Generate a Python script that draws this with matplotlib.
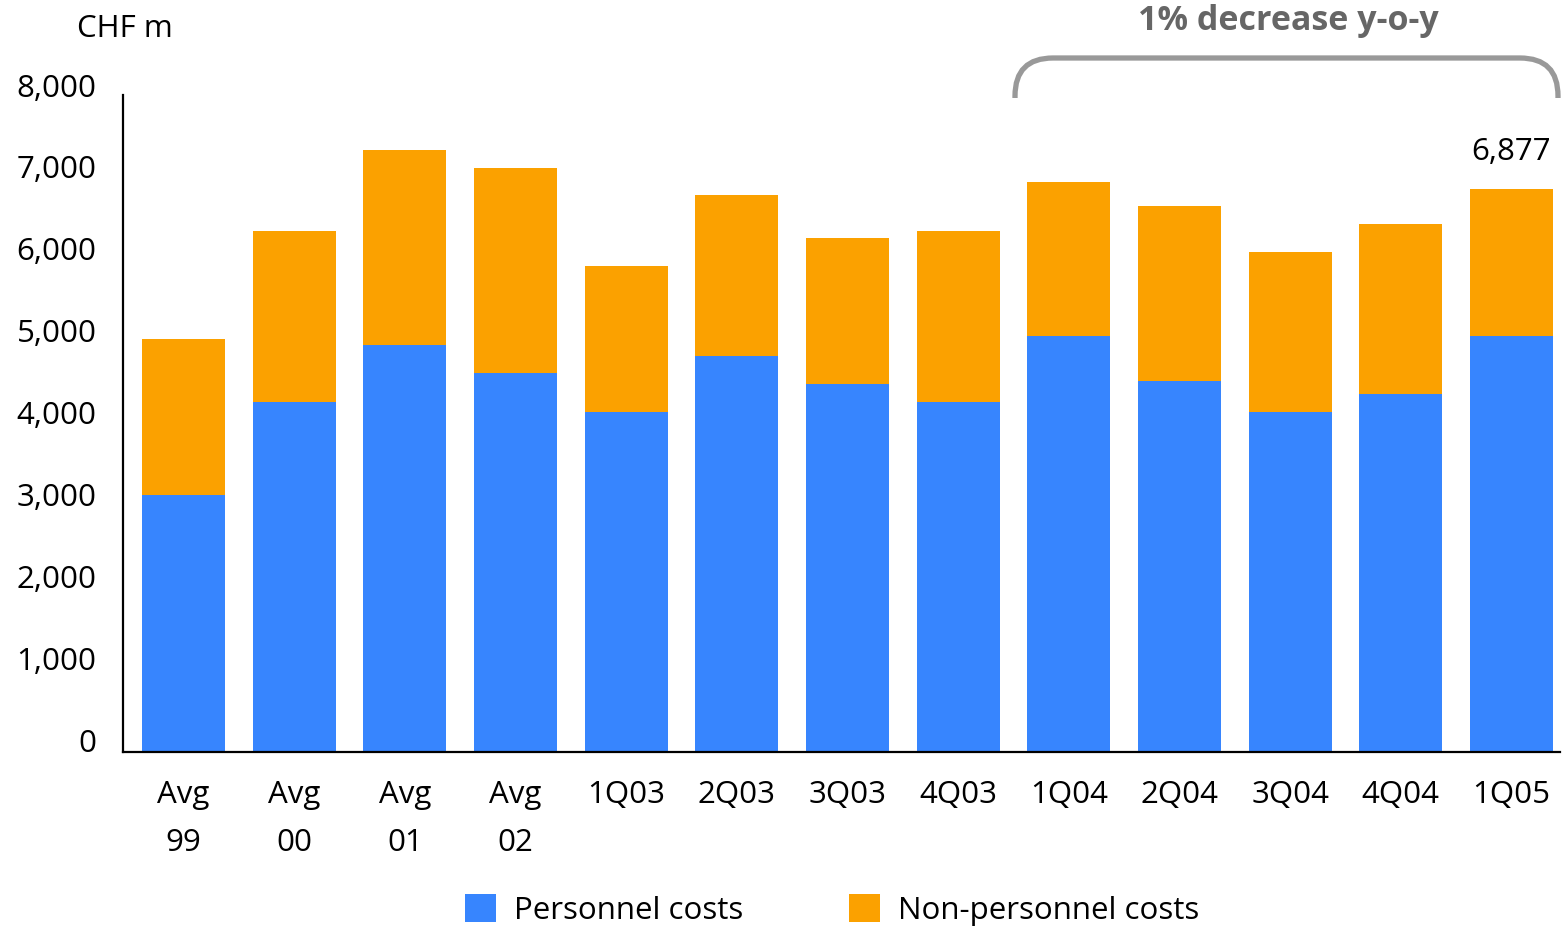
import matplotlib
matplotlib.use("Agg")
import matplotlib.pyplot as plt
from matplotlib.path import Path
from matplotlib.patches import PathPatch
from matplotlib.transforms import ScaledTranslation

plt.rcParams["font.family"] = ["Open Sans", "DejaVu Sans"]

# CHF m
categories = ["Avg\n99", "Avg\n00", "Avg\n01", "Avg\n02", "1Q03", "2Q03", "3Q03",
              "4Q03", "1Q04", "2Q04", "3Q04", "4Q04", "1Q05"]
personnel = [3139, 4275, 4971, 4629, 4153, 4837, 4495, 4275, 5081, 4532, 4153, 4373, 5081]
non_personnel = [1906, 2089, 2382, 2504, 1783, 1966, 1783, 2089, 1881, 2137, 1954, 2076, 1796]
yticks = [0, 1000, 2000, 3000, 4000, 5000, 6000, 7000, 8000]
last_total_label = "6,877"

BLUE = "#3785fe"
ORANGE = "#fba100"
FS = 22.5

fig = plt.figure(figsize=(15.62, 9.27), dpi=100)
ax = fig.add_axes([123 / 1562, 175 / 927, 1437 / 1562, 657 / 927])

x = list(range(len(categories)))
b1 = ax.bar(x, personnel, width=0.75, color=BLUE, label="Personnel costs")
b2 = ax.bar(x, non_personnel, width=0.75, bottom=personnel, color=ORANGE,
            label="Non-personnel costs")

ax.set_xlim(-0.547, 12.438)
ax.set_ylim(0, 8025)
ax.set_yticks(yticks)
ax.set_yticklabels([f"{v:,}" for v in yticks])
ax.set_xticks(x)
ax.set_xticklabels(categories, linespacing=1.8)
ax.tick_params(axis="both", length=0, labelsize=FS)
ax.tick_params(axis="y", pad=19)
ax.tick_params(axis="x", pad=20)
for lab in ax.get_yticklabels():
    lab.set_transform(lab.get_transform() + ScaledTranslation(0, 0.12, fig.dpi_scale_trans))

for s in ["top", "right"]:
    ax.spines[s].set_visible(False)
for s in ["left", "bottom"]:
    ax.spines[s].set_linewidth(1.6)
    ax.spines[s].set_color("black")

# total label over last bar
total_last = personnel[-1] + non_personnel[-1]
ax.annotate(last_total_label, (x[-1], total_last), xytext=(0, 16),
            textcoords="offset points", ha="center", va="bottom", fontsize=FS)

fig.text(77 / 1562, 1 - 29 / 927, "CHF m", fontsize=FS, ha="left", va="center")

# bracket over 1Q04..1Q05 (figure pixel coords -> inches)
x0, x1, ytop, ybot, r = 1015, 1558, 58, 98, 38
pts = [(x0, ybot), (x0, ytop + r), (x0, ytop), (x0 + r, ytop),
       (x1 - r, ytop), (x1, ytop), (x1, ytop + r), (x1, ybot)]
codes = [Path.MOVETO, Path.LINETO, Path.CURVE3, Path.CURVE3,
         Path.LINETO, Path.CURVE3, Path.CURVE3, Path.LINETO]
verts = [(px / 100, (927 - py) / 100) for px, py in pts]
fig.add_artist(PathPatch(Path(verts, codes), facecolor="none", edgecolor="#999999",
                         linewidth=3.8, transform=fig.dpi_scale_trans))
fig.text(1288 / 1562, 1 - 21 / 927, "1% decrease y-o-y", fontsize=24.5,
         fontweight="bold", color="#666666", ha="center", va="center")

fig.legend(handles=[b1, b2], loc="center", bbox_to_anchor=(832 / 1562, 17 / 927),
           ncol=2, frameon=False, fontsize=FS, handlelength=1.0, handleheight=1.0,
           handletextpad=0.55, columnspacing=3.4)

fig.savefig("out.png", dpi=100)
